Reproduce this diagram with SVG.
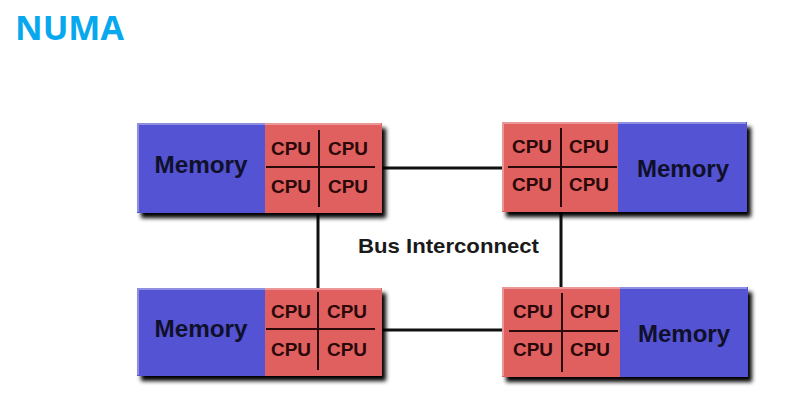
<svg xmlns="http://www.w3.org/2000/svg" width="787" height="405" viewBox="0 0 787 405">
<defs>
<filter id="sh" x="-10%" y="-20%" width="125%" height="150%">
<feGaussianBlur in="SourceAlpha" stdDeviation="2"/>
<feOffset dx="4" dy="5" result="b"/>
<feComponentTransfer><feFuncA type="linear" slope="1"/></feComponentTransfer>
<feMerge><feMergeNode/><feMergeNode in="SourceGraphic"/></feMerge>
</filter>
</defs>
<style>
.mem{fill:#5353d3}
.cpu{fill:#e06161}
.hl{fill:none;stroke:#ffffff;stroke-opacity:0.35;stroke-width:2}
.grid{stroke:#2a0a0a;stroke-width:2}
.bus{stroke:#111;stroke-width:3;fill:none}
.tm{font-family:"Liberation Sans",Arial,sans-serif;font-weight:bold;font-size:23px;fill:#10102a;text-anchor:middle}
.tc{font-family:"Liberation Sans",Arial,sans-serif;font-weight:bold;font-size:18px;fill:#2a0808;text-anchor:middle}
.tb{font-family:"Liberation Sans",Arial,sans-serif;font-weight:bold;font-size:21px;fill:#1a1a1a}
.title{font-family:"Open Sans","Liberation Sans",sans-serif;font-weight:bold;font-size:34px;fill:#08a8ee}
</style>
<rect width="787" height="405" fill="#ffffff"/>
<text class="title" x="15" y="40">NUMA</text>

<g id="connectors">
<line class="bus" x1="380" y1="168" x2="504" y2="168"/>
<line class="bus" x1="380" y1="330" x2="504" y2="330"/>
<line class="bus" x1="318" y1="210" x2="318" y2="290"/>
<line class="bus" x1="561" y1="210" x2="561" y2="290"/>
</g>
<text class="tb" x="358" y="253" textLength="181" lengthAdjust="spacingAndGlyphs">Bus Interconnect</text>

<g id="node-tl">
<g filter="url(#sh)">
<rect class="mem" x="137" y="123" width="128" height="90"/>
<rect class="cpu" x="265" y="123" width="117" height="90"/>
</g>
<path class="hl" d="M138 212 V124 H381"/>
<line class="grid" x1="319" y1="130" x2="319" y2="207"/>
<line class="grid" x1="266" y1="167" x2="375" y2="167"/>
<text class="tm" x="201" y="173" textLength="93" lengthAdjust="spacingAndGlyphs">Memory</text>
<text class="tc" x="291" y="155" textLength="40" lengthAdjust="spacingAndGlyphs">CPU</text>
<text class="tc" x="348" y="155" textLength="40" lengthAdjust="spacingAndGlyphs">CPU</text>
<text class="tc" x="291" y="193" textLength="40" lengthAdjust="spacingAndGlyphs">CPU</text>
<text class="tc" x="348" y="193" textLength="40" lengthAdjust="spacingAndGlyphs">CPU</text>
</g>

<g id="node-tr">
<g filter="url(#sh)">
<rect class="cpu" x="502" y="122" width="117" height="90"/>
<rect class="mem" x="618" y="122" width="129" height="90"/>
</g>
<path class="hl" d="M503 211 V123 H746"/>
<line class="grid" x1="561" y1="128" x2="561" y2="207"/>
<line class="grid" x1="508" y1="167" x2="617" y2="167"/>
<text class="tm" x="683" y="177" textLength="92" lengthAdjust="spacingAndGlyphs">Memory</text>
<text class="tc" x="532" y="153" textLength="40" lengthAdjust="spacingAndGlyphs">CPU</text>
<text class="tc" x="589" y="153" textLength="40" lengthAdjust="spacingAndGlyphs">CPU</text>
<text class="tc" x="532" y="191" textLength="40" lengthAdjust="spacingAndGlyphs">CPU</text>
<text class="tc" x="589" y="191" textLength="40" lengthAdjust="spacingAndGlyphs">CPU</text>
</g>

<g id="node-bl">
<g filter="url(#sh)">
<rect class="mem" x="137" y="288" width="128" height="88"/>
<rect class="cpu" x="265" y="288" width="117" height="88"/>
</g>
<path class="hl" d="M138 375 V289 H381"/>
<line class="grid" x1="318" y1="292" x2="318" y2="370"/>
<line class="grid" x1="266" y1="329" x2="375" y2="329"/>
<text class="tm" x="201" y="337" textLength="93" lengthAdjust="spacingAndGlyphs">Memory</text>
<text class="tc" x="291" y="318" textLength="40" lengthAdjust="spacingAndGlyphs">CPU</text>
<text class="tc" x="347" y="318" textLength="40" lengthAdjust="spacingAndGlyphs">CPU</text>
<text class="tc" x="291" y="356" textLength="40" lengthAdjust="spacingAndGlyphs">CPU</text>
<text class="tc" x="347" y="356" textLength="40" lengthAdjust="spacingAndGlyphs">CPU</text>
</g>

<g id="node-br">
<g filter="url(#sh)">
<rect class="cpu" x="502" y="287" width="118" height="90"/>
<rect class="mem" x="620" y="287" width="128" height="90"/>
</g>
<path class="hl" d="M503 376 V288 H747"/>
<line class="grid" x1="562" y1="293" x2="562" y2="372"/>
<line class="grid" x1="509" y1="331" x2="618" y2="331"/>
<text class="tm" x="684" y="342" textLength="92" lengthAdjust="spacingAndGlyphs">Memory</text>
<text class="tc" x="533" y="318" textLength="40" lengthAdjust="spacingAndGlyphs">CPU</text>
<text class="tc" x="590" y="318" textLength="40" lengthAdjust="spacingAndGlyphs">CPU</text>
<text class="tc" x="533" y="356" textLength="40" lengthAdjust="spacingAndGlyphs">CPU</text>
<text class="tc" x="590" y="356" textLength="40" lengthAdjust="spacingAndGlyphs">CPU</text>
</g>
</svg>
